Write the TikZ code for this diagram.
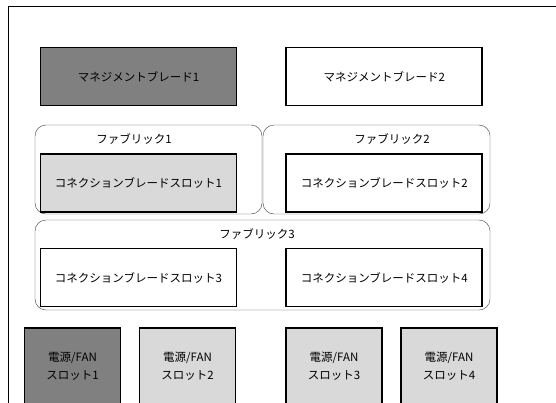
\documentclass[tikz,border=0pt]{standalone}
\usepackage{fontspec}
\setmainfont{Noto Sans CJK JP}
\usepackage{tikz}
\usetikzlibrary{positioning}

\begin{document}
\begin{tikzpicture}
  [
  x=1pt,y=-1pt,
  every node/.style={font=\fontsize{11.5}{17.5}\selectfont},
  blade/.style={rectangle,draw=black,line width=1.8pt,fill=white,minimum width=196pt,minimum height=58pt,inner sep=0pt},
  dark/.style={fill=black!50},
  light/.style={fill=black!15},
  psu/.style={rectangle,draw=black,line width=1.8pt,fill=black!15,minimum width=96pt,minimum height=76pt,inner sep=0pt,align=center},
  fabric/.style={rectangle,rounded corners=11pt,draw=black!75,thin,inner sep=0pt},
  fablabel/.style={inner sep=1pt}
  ]
  \clip (0,0) rectangle (556,402);
  \fill[white] (0,0) rectangle (556,402);
  % outer frame
  \draw[line width=1.8pt] (8.5,405) |- (560,6.5);
  % fabrics
  \node[fabric,minimum width=227pt,minimum height=89pt] (fabric1) at (148.5,169.5) {};
  \node[fabric,minimum width=227pt,minimum height=89pt] (fabric2) at (376.5,169.5) {};
  \node[fabric,minimum width=455pt,minimum height=90pt] (fabric3) at (262.5,265) {};
  \node[fablabel] (fablabel1) at (134,139) {ファブリック1};
  \node[fablabel] (fablabel2) at (392,139) {ファブリック2};
  \node[fablabel] (fablabel3) at (257,234) {ファブリック3};
  % blades
  \node[blade,dark] (mgmt1) at (138.5,76.5) {マネジメントブレード1};
  \node[blade] (mgmt2) [right=48pt of mgmt1] {マネジメントブレード2};
  \node[blade,light] (slot1) at (138.5,183) {コネクションブレードスロット1};
  \node[blade] (slot2) [right=48pt of slot1] {コネクションブレードスロット2};
  \node[blade] (slot3) at (138.5,277.5) {コネクションブレードスロット3};
  \node[blade] (slot4) [right=48pt of slot3] {コネクションブレードスロット4};
  % power / fan
  \node[psu,dark] (psu1) at (72.5,366) {電源/FAN\\スロット1};
  \node[psu] (psu2) at (187.5,366) {電源/FAN\\スロット2};
  \node[psu] (psu3) at (334,366) {電源/FAN\\スロット3};
  \node[psu] (psu4) at (449,366) {電源/FAN\\スロット4};
\end{tikzpicture}
\end{document}
